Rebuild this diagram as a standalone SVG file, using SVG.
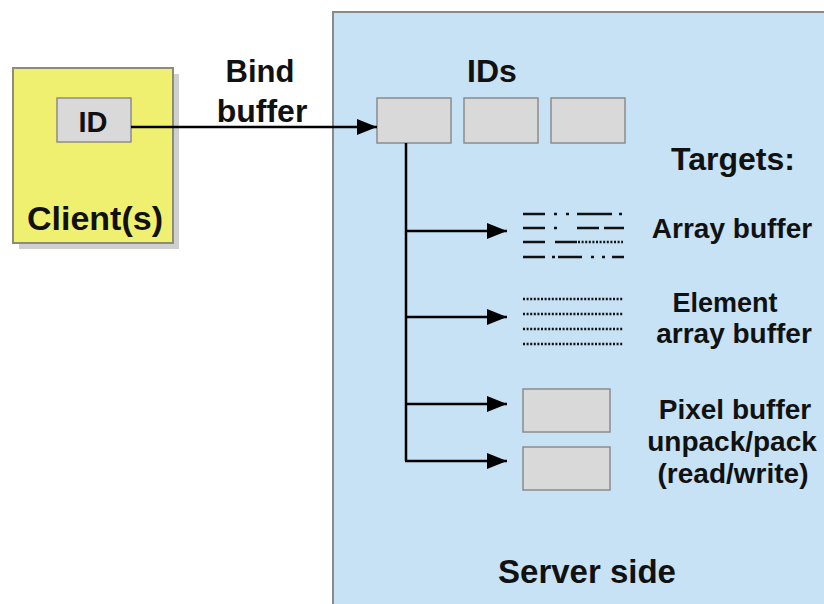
<svg xmlns="http://www.w3.org/2000/svg" width="824" height="604" viewBox="0 0 824 604">
  <style>
    .lbl { font-family: "Liberation Sans", Arial, sans-serif; font-weight: bold; fill: #111; text-anchor: middle; }
    .slot { fill: #d9d9d9; stroke: #8c8c8c; stroke-width: 1.5; }
    .wire { fill: none; stroke: #000; stroke-width: 2.5; }
    .pat { fill: none; stroke: #111; stroke-width: 2.6; }
    .dots { fill: none; stroke: #111; stroke-width: 2.4; stroke-dasharray: 2 1.6; }
  </style>
  <defs>
    <marker id="head" markerUnits="userSpaceOnUse" markerWidth="22" markerHeight="18" refX="20" refY="8" orient="auto">
      <path d="M0,0 L20,8 L0,16 Z" fill="#000"/>
    </marker>
  </defs>

  <rect width="824" height="604" fill="#ffffff"/>

  <!-- Client side -->
  <g id="client">
    <rect x="19" y="74" width="160" height="175" fill="#cfcfcf"/>
    <rect x="13" y="68" width="160" height="175" fill="#f0f070" stroke="#8c8c78" stroke-width="2"/>
    <rect x="57" y="98" width="74" height="44" class="slot"/>
    <text class="lbl" x="93" y="132" font-size="29">ID</text>
    <text class="lbl" x="95" y="230" font-size="34">Client(s)</text>
  </g>

  <!-- Server side -->
  <g id="server">
    <rect x="333" y="12" width="500" height="600" fill="#c6e2f4" stroke="#8a8a8a" stroke-width="2"/>
    <text class="lbl" x="587" y="583" font-size="33">Server side</text>
  </g>

  <g id="ids">
    <text class="lbl" x="492" y="82" font-size="32">IDs</text>
    <rect x="377" y="98" width="74" height="45" class="slot"/>
    <rect x="464" y="98" width="74" height="45" class="slot"/>
    <rect x="551" y="98" width="74" height="45" class="slot"/>
  </g>

  <g id="bind-label">
    <text class="lbl" x="260" y="82" font-size="31">Bind</text>
    <text class="lbl" x="262" y="122" font-size="32">buffer</text>
  </g>

  <text class="lbl" x="733" y="170" font-size="32">Targets:</text>

  <!-- Array buffer target -->
  <g id="array-buffer">
    <path class="pat" d="M523,214 H545 M554,214 H557 M566,214 H569 M577,214 H612 M619,214 H622"/>
    <path class="pat" d="M523,228 H545 M554,228 H557 M577,228 H599 M604,228 H624"/>
    <path class="pat" d="M523,242 H545 M555,242 H577"/>
    <path class="dots" d="M578,242 H623"/>
    <path class="pat" d="M523,257 H545 M552,257 H555 M558,257 H582 M591,257 H594 M602,257 H605 M612,257 H624"/>
    <text class="lbl" x="732" y="238" font-size="28">Array buffer</text>
  </g>

  <!-- Element array buffer target -->
  <g id="element-array-buffer">
    <path class="dots" d="M523,299 H623 M523,314 H623 M523,329 H623 M523,344 H623"/>
    <text class="lbl" x="725" y="312" font-size="27">Element</text>
    <text class="lbl" x="734" y="343" font-size="28">array buffer</text>
  </g>

  <!-- Pixel buffer targets -->
  <g id="pixel-buffer">
    <rect x="523" y="389" width="87" height="43" class="slot"/>
    <rect x="523" y="447" width="87" height="43" class="slot"/>
    <text class="lbl" x="735" y="419" font-size="28">Pixel buffer</text>
    <text class="lbl" x="732" y="451" font-size="28">unpack/pack</text>
    <text class="lbl" x="733" y="483" font-size="28">(read/write)</text>
  </g>

  <!-- Connectors -->
  <g id="connectors">
    <path class="wire" d="M131,127 H377" marker-end="url(#head)"/>
    <path class="wire" d="M406,143 V461"/>
    <path class="wire" d="M406,231 H507" marker-end="url(#head)"/>
    <path class="wire" d="M406,317 H507" marker-end="url(#head)"/>
    <path class="wire" d="M406,404 H507" marker-end="url(#head)"/>
    <path class="wire" d="M405,461 H507" marker-end="url(#head)"/>
  </g>
</svg>
